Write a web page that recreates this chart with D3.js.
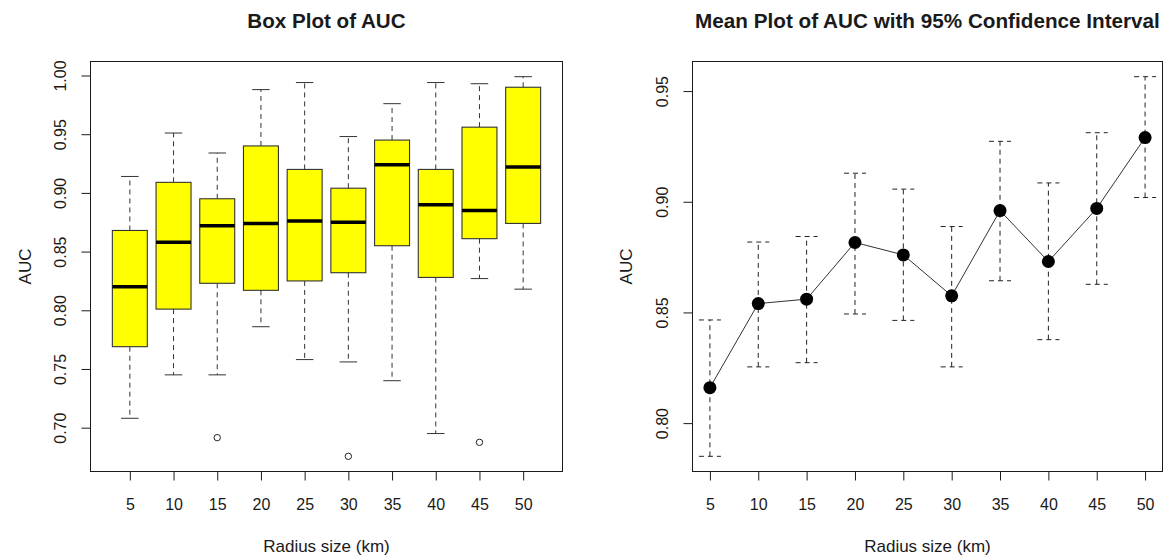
<!DOCTYPE html>
<html>
<head>
<meta charset="utf-8">
<script src="https://cdn.jsdelivr.net/npm/d3@7"></script>
<style>
  html, body { margin: 0; padding: 0; background: #fff; }
  svg { display: block; font-family: "Liberation Sans", Arial, sans-serif; }
</style>
</head>
<body>
<svg id="chart" width="1168" height="557"></svg>
<script>
// ---------- data ----------
const categories = ["5", "10", "15", "20", "25", "30", "35", "40", "45", "50"];
const radius = [5, 10, 15, 20, 25, 30, 35, 40, 45, 50];

// box plot statistics
const boxLowerWhisker = [0.708, 0.745, 0.745, 0.786, 0.758, 0.756, 0.740, 0.695, 0.827, 0.818];
const boxQ1           = [0.769, 0.801, 0.823, 0.817, 0.825, 0.832, 0.855, 0.828, 0.861, 0.874];
const boxMedian       = [0.820, 0.858, 0.872, 0.874, 0.876, 0.875, 0.924, 0.890, 0.885, 0.922];
const boxQ3           = [0.868, 0.909, 0.895, 0.940, 0.920, 0.904, 0.945, 0.920, 0.956, 0.990];
const boxUpperWhisker = [0.914, 0.951, 0.934, 0.988, 0.994, 0.948, 0.976, 0.994, 0.993, 0.999];
const outlierGroup = ["15", "30", "45"];
const outlierValue = [0.6915, 0.6756, 0.6875];

// mean plot with 95% CI
const meanAUC = [0.816, 0.854, 0.856, 0.8816, 0.876, 0.8575, 0.896, 0.873, 0.897, 0.929];
const ciLower = [0.785, 0.8254, 0.8273, 0.8493, 0.8464, 0.8254, 0.8643, 0.8377, 0.8627, 0.9019];
const ciUpper = [0.8466, 0.8818, 0.8843, 0.9129, 0.9057, 0.8888, 0.9273, 0.9085, 0.9312, 0.9565];

const leftYTicks = [0.70, 0.75, 0.80, 0.85, 0.90, 0.95, 1.00];
const rightYTicks = [0.80, 0.85, 0.90, 0.95];

const title1 = "Box Plot of AUC";
const title2 = "Mean Plot of AUC with 95% Confidence Interval";
const xTitle = "Radius size (km)";
const yTitle = "AUC";

// ---------- layout ----------
const svg = d3.select("#chart");
const ink = "#1a1a1a";
const plotTop = 61.5, plotBottom = 471.5;
const P1 = {l: 90.5, r: 562.5};
const P2 = {l: 692.5, r: 1162.5};

function padDomain(lo, hi, f) { const d = (hi - lo) * f; return [lo - d, hi + d]; }

// ---------- left: box plot ----------
const x1 = d3.scaleLinear().domain(padDomain(0.5, 10.5, 0.04)).range([P1.l, P1.r]);
const idx = d3.scaleOrdinal().domain(categories).range(d3.range(1, categories.length + 1));
const allLeft = boxLowerWhisker.concat(boxUpperWhisker, outlierValue);
const y1 = d3.scaleLinear().domain(padDomain(d3.min(allLeft), d3.max(allLeft), 0.04)).range([plotBottom, plotTop]);

const boxW = x1(1.4) - x1(1.0);   // half of 0.8 box width
const capW = boxW / 2;

const g1 = svg.append("g");
categories.forEach((c, i) => {
  const cx = x1(idx(c));
  g1.append("line").attr("x1", cx).attr("x2", cx)
    .attr("y1", y1(boxQ3[i])).attr("y2", y1(boxUpperWhisker[i]))
    .attr("stroke", "#333").attr("stroke-dasharray", "5,4");
  g1.append("line").attr("x1", cx).attr("x2", cx)
    .attr("y1", y1(boxQ1[i])).attr("y2", y1(boxLowerWhisker[i]))
    .attr("stroke", "#333").attr("stroke-dasharray", "5,4");
  [boxUpperWhisker[i], boxLowerWhisker[i]].forEach(v => {
    g1.append("line").attr("x1", cx - capW).attr("x2", cx + capW)
      .attr("y1", y1(v)).attr("y2", y1(v)).attr("stroke", "#333");
  });
  g1.append("rect").attr("x", cx - boxW).attr("width", 2 * boxW)
    .attr("y", y1(boxQ3[i])).attr("height", y1(boxQ1[i]) - y1(boxQ3[i]))
    .attr("fill", "#ffff00").attr("stroke", "#333").attr("stroke-width", 1.1);
  g1.append("line").attr("x1", cx - boxW).attr("x2", cx + boxW)
    .attr("y1", y1(boxMedian[i])).attr("y2", y1(boxMedian[i]))
    .attr("stroke", "#000").attr("stroke-width", 3.5);
});
outlierGroup.forEach((c, i) => {
  g1.append("circle").attr("cx", x1(idx(c))).attr("cy", y1(outlierValue[i]))
    .attr("r", 3.2).attr("fill", "none").attr("stroke", "#222").attr("stroke-width", 1);
});

// ---------- right: mean plot ----------
const x2 = d3.scaleLinear().domain(padDomain(d3.min(radius), d3.max(radius), 0.04)).range([P2.l, P2.r]);
const y2 = d3.scaleLinear().domain(padDomain(d3.min(ciLower), d3.max(ciUpper), 0.04)).range([plotBottom, plotTop]);
const g2 = svg.append("g");
const errCap = 11;
radius.forEach((r, i) => {
  const cx = x2(r);
  g2.append("line").attr("x1", cx).attr("x2", cx)
    .attr("y1", y2(ciLower[i])).attr("y2", y2(ciUpper[i]))
    .attr("stroke", "#222").attr("stroke-dasharray", "5,4");
  [ciLower[i], ciUpper[i]].forEach(v => {
    g2.append("line").attr("x1", cx - errCap).attr("x2", cx + errCap)
      .attr("y1", y2(v)).attr("y2", y2(v))
      .attr("stroke", "#222").attr("stroke-dasharray", "5,4");
  });
});
g2.append("path")
  .datum(radius.map((r, i) => [r, meanAUC[i]]))
  .attr("d", d3.line().x(d => x2(d[0])).y(d => y2(d[1])))
  .attr("fill", "none").attr("stroke", "#333").attr("stroke-width", 1);
radius.forEach((r, i) => {
  g2.append("circle").attr("cx", x2(r)).attr("cy", y2(meanAUC[i]))
    .attr("r", 6.5).attr("fill", "#000");
});

// ---------- frames, axes, text ----------
function frame(P) {
  svg.append("rect").attr("x", P.l).attr("y", plotTop).attr("width", P.r - P.l).attr("height", plotBottom - plotTop)
    .attr("fill", "none").attr("stroke", ink).attr("stroke-width", 1);
}
frame(P1); frame(P2);

function styleAxis(g) {
  g.select(".domain").remove();
  g.selectAll(".tick line").attr("stroke", ink);
  g.selectAll(".tick text").attr("fill", ink).attr("font-size", 16)
    .attr("font-family", "'Liberation Sans', Arial, sans-serif");
}

svg.append("g").attr("transform", `translate(0,${plotBottom})`)
  .call(d3.axisBottom(x1).tickValues(d3.range(1, categories.length + 1))
    .tickFormat(d => categories[d - 1]).tickSize(9).tickPadding(18.5))
  .call(styleAxis);
svg.append("g").attr("transform", `translate(0,${plotBottom})`)
  .call(d3.axisBottom(x2).tickValues(radius).tickFormat(d3.format("d")).tickSize(9).tickPadding(18.5))
  .call(styleAxis);

function yAxis(P, scale, ticks) {
  const g = svg.append("g").attr("transform", `translate(${P.l},0)`)
    .call(d3.axisLeft(scale).tickValues(ticks).tickFormat(d3.format(".2f")).tickSize(9))
    .call(styleAxis);
  g.selectAll(".tick text")
    .attr("x", null).attr("dy", null)
    .attr("text-anchor", "middle")
    .attr("transform", "translate(-25,0) rotate(-90)");
}
yAxis(P1, y1, leftYTicks);
yAxis(P2, y2, rightYTicks);

function txt(x, y, s, size, weight, rot) {
  const t = svg.append("text").attr("x", x).attr("y", y).attr("text-anchor", "middle")
    .attr("font-size", size).attr("font-weight", weight).attr("fill", ink).text(s);
  if (rot) t.attr("transform", `rotate(-90,${x},${y})`);
  return t;
}
txt((P1.l + P1.r) / 2, 27.5, title1, 20.6, "bold");
txt((P2.l + P2.r) / 2, 27.5, title2, 20.7, "bold");
txt((P1.l + P1.r) / 2, 552, xTitle, 17, "normal");
txt((P2.l + P2.r) / 2, 552, xTitle, 17, "normal");
txt(P1.l - 60, (plotTop + plotBottom) / 2, yTitle, 17, "normal", true);
txt(P2.l - 61, (plotTop + plotBottom) / 2, yTitle, 17, "normal", true);
</script>
</body>
</html>
